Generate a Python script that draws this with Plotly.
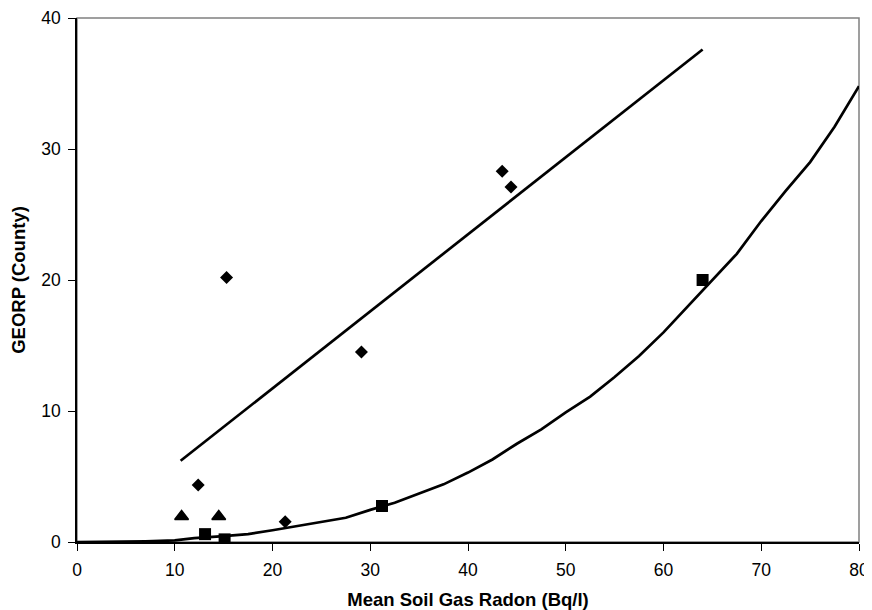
import plotly.graph_objects as go

# Data
diamond_x = [12.4, 15.3, 21.3, 29.1, 43.5, 44.4]
diamond_y = [4.35, 20.2, 1.55, 14.5, 28.3, 27.1]

triangle_x = [10.7, 14.5]
triangle_y = [1.95, 1.95]

square_x = [13.1, 15.1, 31.2, 64.0]
square_y = [0.6, 0.2, 2.75, 20.0]

# straight trend line (diamonds)
line_x = [10.6, 64.0]
line_y = [6.2, 37.6]

# curved trend line (squares)
curve_x = [0, 5, 7, 10, 12, 15, 17.5, 20, 22.5, 25, 27.5, 30, 32.5, 35, 37.5,
           40, 42.5, 45, 47.5, 50, 52.5, 55, 57.5, 60, 62.5, 65, 67.5, 70,
           72.5, 75, 77.5, 80]
curve_y = [0, 0, 0.05, 0.12, 0.3, 0.45, 0.6, 0.9, 1.2, 1.5, 1.85, 2.45, 3.0,
           3.7, 4.4, 5.3, 6.3, 7.5, 8.6, 9.9, 11.1, 12.6, 14.2, 16.0, 18.0,
           20.0, 22.0, 24.5, 26.8, 29.0, 31.7, 34.8]

x_ticks = [0, 10, 20, 30, 40, 50, 60, 70, 80]
y_ticks = [0, 10, 20, 30, 40]

fig = go.Figure()

fig.add_trace(go.Scatter(x=line_x, y=line_y, mode="lines",
                         line=dict(color="black", width=2.7), showlegend=False))
fig.add_trace(go.Scatter(x=curve_x, y=curve_y, mode="lines",
                         line=dict(color="black", width=2.7), showlegend=False))
fig.add_trace(go.Scatter(x=diamond_x, y=diamond_y, mode="markers",
                         marker=dict(symbol="diamond", size=10, color="black"),
                         showlegend=False))
fig.add_trace(go.Scatter(x=triangle_x, y=triangle_y, mode="markers",
                         marker=dict(symbol="triangle-up", size=12, color="black",
                                     line=dict(color="black", width=1.5)),
                         showlegend=False))
fig.add_trace(go.Scatter(x=square_x, y=square_y, mode="markers",
                         marker=dict(symbol="square", size=12, color="black"),
                         showlegend=False))

fig.add_shape(type="rect", xref="x domain", yref="y domain", x0=0, x1=1, y0=0, y1=1,
              line=dict(color="#808080", width=1.5), layer="below")

fig.update_layout(
    width=864, height=602,
    margin=dict(l=69, r=13, t=10, b=68, autoexpand=False),
    paper_bgcolor="white", plot_bgcolor="white",
    font=dict(family="Liberation Sans, Arial, sans-serif", color="black", size=17.5),
)
fig.update_xaxes(range=[0, 80], tickvals=x_ticks, showgrid=False, zeroline=False,
                 showline=True, linecolor="black", linewidth=1.5, automargin=False,
                 ticks="outside", ticklen=7, tickcolor="black", ticklabelstandoff=4,
                 title=dict(text="<b>Mean Soil Gas Radon (Bq/l)</b>", font=dict(size=18.5)))
fig.update_yaxes(range=[0, 40], tickvals=y_ticks, showgrid=False, zeroline=False,
                 showline=True, linecolor="black", linewidth=1.5, automargin=False,
                 ticks="outside", ticklen=7, tickcolor="black", ticklabelstandoff=4,
                 title=dict(text="<b>GEORP (County)</b>", font=dict(size=18.5)))

fig.write_html("out.html")
